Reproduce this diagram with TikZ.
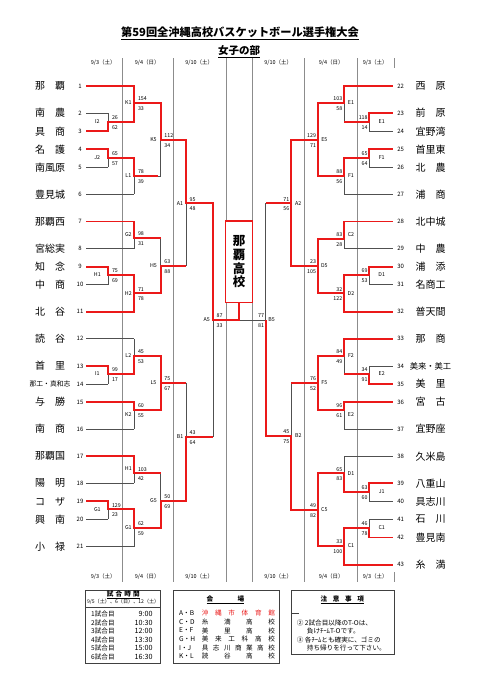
\documentclass[tikz,border=0pt]{standalone}
\usepackage{fontspec}
\setmainfont{Noto Sans CJK JP}
\usepackage{tikz}
\definecolor{bracketred}{RGB}{235,25,25}
\definecolor{bracketgray}{RGB}{80,80,80}
\definecolor{gridgray}{RGB}{140,140,140}
\newcommand{\tnamefont}{\fontsize{10}{12}\selectfont}
\newcommand{\tnumfont}{\fontsize{6}{7}\selectfont}
\newcommand{\scorefont}{\fontsize{5.3}{6}\selectfont}
\newcommand{\dayfont}{\fontsize{5.5}{6.5}\selectfont}
\newcommand{\tablefont}{\fontsize{6.6}{7.5}\selectfont}
\newcommand{\spreadbox}[2]{\makebox[#1][s]{#2}}

\begin{document}
\begin{tikzpicture}[x=1pt, y=-1pt,
    gl/.style={draw=bracketgray, line width=0.7pt},
    rl/.style={draw=bracketred, line width=1.9pt},
    colline/.style={draw=gridgray, line width=0.4pt},
    tname/.style={font=\tnamefont, inner sep=0pt},
    tnum/.style={font=\tnumfont, inner sep=0pt},
    sc/.style={font=\scorefont, inner sep=0pt},
    day/.style={font=\dayfont, inner sep=0pt},
    tbl/.style={draw=black!75, line width=0.8pt},
    tbltxt/.style={font=\tablefont, inner sep=0pt},
    tblhead/.style={font=\tablefont\bfseries, inner sep=0pt}]
    \fill[white] (0,0) rectangle (481,680);
    \useasboundingbox (0,0) rectangle (481,680);

    % Title
    \node[font=\fontsize{11.2}{13}\selectfont\bfseries, inner sep=0pt] (title) at (240,33.5) {\underline{第59回全沖縄高校バスケットボール選手権大会}};
    \node[font=\fontsize{10.5}{12}\selectfont\bfseries, inner sep=0pt] (subtitle) at (239,51.7) {\underline{女子の部}};

    % Day columns
    \foreach \x in {122,173,226,252,304,357}
        \draw[colline] (\x,58) -- (\x,582);
    \draw[colline] (394,58) -- (394,68) (394,572) -- (394,582);
    \foreach \x/\d [count=\i] in {103.3/{9/3（土）}, 147.2/{9/4（日）}, 199.2/{9/10（土）}, 278.2/{9/10（土）}, 331.2/{9/4（日）}, 375.3/{9/3（土）}}
    {
        \node[day] (dtop\i) at (\x,63) {\d};
        \node[day] (dbot\i) at (\x,577) {\d};
    }

    % Left teams
    \foreach \n/\name/\y/\e in {1/那　覇/86/134.3, 2/南　農/113.1/108.3, 3/具　商/131.2/108.3, 4/名　護/149.2/108.3,
        5/南風原/167.3/108.3, 6/豊見城/194.4/134.3, 7/那覇西/221.5/134.3, 8/宮総実/248.5/134.3,
        9/知　念/266.6/108.3, 10/中　商/284.7/108.3, 11/北　谷/311.8/134.3, 12/読　谷/338.8/134.3,
        13/首　里/365.9/108.3, 14/{{\fontsize{6.8}{8}\selectfont 那工・真和志}}/384/108.3, 15/与　勝/402.1/134.3,
        16/南　商/429.1/134.3, 17/那覇国/456.2/134.3, 18/陽　明/483.3/134.3, 19/コ　ザ/501.4/108.3,
        20/興　南/519.4/108.3, 21/小　禄/546.5/134.3}
    {
        \draw[gl] (86,\y) -- (\e,\y);
        \node[tnum] (num\n) at (80,\y) {\n};
        \node[tname] (team\n) at (50,\y) {\name};
    }

    % Right teams
    \foreach \n/\name/\y/\e in {22/西　原/86/344, 23/前　原/113.1/369.3, 24/宜野湾/131.2/369.3, 25/首里東/149.2/369.3,
        26/北　農/167.3/369.3, 27/浦　商/194.4/344, 28/北中城/221.5/344, 29/中　農/248.5/344,
        30/浦　添/266.6/369.3, 31/名商工/284.7/369.3, 32/普天間/311.8/344, 33/那　商/338.8/344,
        34/{{\fontsize{8.3}{9}\selectfont 美来・美工}}/365.9/369.3, 35/美　里/384/369.3, 36/宮　古/402.1/344,
        37/宜野座/429.1/344, 38/久米島/456.2/344, 39/八重山/483.3/369.3, 40/具志川/501.4/369.3,
        41/石　川/519.4/369.3, 42/豊見南/537.5/369.3, 43/糸　満/564.6/344}
    {
        \draw[gl] (\e,\y) -- (392.7,\y);
        \node[tnum] (num\n) at (400.7,\y) {\n};
        \node[tname] (team\n) at (430.5,\y) {\name};
    }

    % Left matches: column, top, bottom, out, next column, label pos, label, scores
    \foreach \x/\t/\b/\o/\nx/\lx/\ly/\m/\p/\q [count=\i] in {
        108.3/113.1/131.2/122/134.3/97.3/122/I2/26/62, 108.3/149.2/167.3/158/134.3/97.3/158/J2/65/57,
        134.3/86/122/103/160.7/128.3/103/K1/154/33, 134.3/158/194.4/176/160.7/128.3/176/L1/78/39,
        160.7/103/176/140/186/153.5/140/K5/112/34, 186/140/265.7/203.3/213/180/203.3/A1/95/48,
        134.3/221.5/248.5/238/160.7/128.3/235/G2/98/31, 108.3/266.6/284.7/275/134.3/97.3/275/H1/75/69,
        134.3/275/311.8/293.3/160.7/128.3/293.3/H2/71/78, 160.7/238/293.3/265.7/186/153.5/265.7/H5/63/88,
        108.3/365.9/384/374/134.3/97.3/374/I1/99/17, 134.3/338.8/374/355.7/160.7/128.3/355.7/L2/45/53,
        134.3/402.1/429.1/410/160.7/128.3/415/K2/60/55, 160.7/355.7/410/382.7/186/153.5/382.7/L5/75/67,
        186/382.7/500.7/436.7/213/180/436.7/B1/43/64, 134.3/456.2/483.3/473.3/160.7/128.3/469/H1/103/42,
        108.3/501.4/519.4/509.3/134.3/97.3/509.3/G1/129/23, 134.3/509.3/546.5/527.7/160.7/128.3/527.7/G1/62/59,
        160.7/473.3/527.7/500.7/186/153.5/500.7/G5/50/69, 213/203.3/436.7/320/239/206.7/320/A5/87/33}
    {
        \draw[gl] (\x,\t) -- (\x,\b) (\x,\o) -- (\nx,\o);
        \node[sc] (lm\i) at (\lx,\ly) {\m};
        \node[sc, anchor=west] (lp\i) at (\x+3.5,\o-4) {\p};
        \node[sc, anchor=west] (lq\i) at (\x+3.5,\o+5.5) {\q};
    }

    % Right matches
    \foreach \x/\t/\b/\o/\nx/\lx/\ly/\m/\p/\q [count=\i] in {
        369.3/113.1/131.2/122/344/381.7/122/E1/118/14, 344/86/122/103/317.7/351/103/E1/103/58,
        369.3/149.2/167.3/158/344/381.7/158/F1/65/64, 344/158/194.4/176/317.7/351/176/F1/88/56,
        317.7/103/176/140/291/324.3/140/E5/129/71, 344/221.5/248.5/239/317.7/351/235/C2/83/28,
        369.3/266.6/284.7/275/344/381.7/275/D1/69/53, 344/275/311.8/293.3/317.7/351/293.3/D2/32/122,
        317.7/239/293.3/265.7/291/324.3/265.7/D5/23/105, 291/140/265.7/203.3/265.7/298.3/203.3/A2/71/56,
        344/338.8/374/355.7/317.7/351/355.7/F2/84/49, 369.3/365.9/384/374/344/381.7/374/E2/34/91,
        344/402.1/429.1/410/317.7/351/415/E2/96/61, 317.7/355.7/410/382.7/291/324.3/382.7/F5/76/52,
        344/456.2/491.7/473.3/317.7/351/473.3/D1/65/83, 369.3/483.3/501.4/491.7/344/381.7/491.7/J1/63/60,
        369.3/519.4/537.5/527.7/344/381.7/527.7/C1/46/78, 344/527.7/564.6/546/317.7/351/546/C1/33/100,
        317.7/473.3/546/510/291/324.3/510/C5/49/82, 291/382.7/510/436/265.7/298.3/436/B2/45/75,
        265.7/203.3/436/320/239/271.7/320/B5/77/81}
    {
        \draw[gl] (\x,\t) -- (\x,\b) (\x,\o) -- (\nx,\o);
        \node[sc] (rm\i) at (\lx,\ly) {\m};
        \node[sc, anchor=east] (rp\i) at (\x-1.5,\o-4) {\p};
        \node[sc, anchor=east] (rq\i) at (\x-1.5,\o+5.5) {\q};
    }

    % Champion
    \node[draw=bracketred, line width=1.4pt, fill=white, minimum width=26.6pt, minimum height=81.7pt,
        inner sep=0pt, align=center, font=\fontsize{12.5}{13.7}\selectfont\bfseries] (champ) at (239,261.9) {那\\覇\\高\\校};

    % Winning lines, left
    \draw[rl] (86,86) -- (134.3,86) -- (134.3,103) -- (160.7,103) -- (160.7,140) -- (186,140) -- (186,203.3) -- (213,203.3) -- (213,320) -- (239,320) -- (champ.south);
    \draw[rl] (86,131.2) -- (108.3,131.2) -- (108.3,122) -- (134.3,122) -- (134.3,103);
    \draw[rl] (86,149.2) -- (108.3,149.2) -- (108.3,158) -- (134.3,158) -- (134.3,176) -- (157.5,176);
    \draw[rl] (86,221.5) -- (134.3,221.5) -- (134.3,238) -- (160.7,238);
    \draw[rl] (86,266.6) -- (108.3,266.6) -- (108.3,275) -- (134.3,275) -- (134.3,293.3);
    \draw[rl] (86,311.8) -- (134.3,311.8) -- (134.3,293.3) -- (160.7,293.3) -- (160.7,265.7) -- (186,265.7);
    \draw[rl] (86,365.9) -- (108.3,365.9) -- (108.3,374) -- (134.3,374) -- (134.3,355.7) -- (160.7,355.7) -- (160.7,382.7) -- (186,382.7);
    \draw[rl] (86,402.1) -- (134.3,402.1) -- (134.3,410) -- (160.7,410) -- (160.7,382.7);
    \draw[rl] (86,456.2) -- (134.3,456.2) -- (134.3,473.3) -- (160.7,473.3);
    \draw[rl] (86,501.4) -- (108.3,501.4) -- (108.3,509.3) -- (134.3,509.3) -- (134.3,527.7) -- (160.7,527.7) -- (160.7,500.7) -- (186,500.7) -- (186,436.7) -- (213,436.7);

    % Winning lines, right
    \draw[rl] (392.7,86) -- (344,86) -- (344,103) -- (317.7,103) -- (317.7,140) -- (291,140) -- (291,203.3) -- (265.7,203.3);
    \draw[rl] (392.7,113.1) -- (369.3,113.1) -- (369.3,122) -- (344,122);
    \draw[rl] (392.7,149.2) -- (369.3,149.2) -- (369.3,158) -- (344,158) -- (344,176) -- (317.7,176) -- (317.7,140);
    \draw[rl] (392.7,221.5) -- (344,221.5) -- (344,239) -- (317.7,239) -- (317.7,265.7);
    \draw[rl] (392.7,266.6) -- (369.3,266.6) -- (369.3,275) -- (344,275) -- (344,293.3);
    \draw[rl] (392.7,311.8) -- (344,311.8) -- (344,293.3) -- (317.7,293.3) -- (317.7,265.7) -- (291,265.7) -- (291,203.3);
    \draw[rl] (392.7,338.8) -- (344,338.8) -- (344,355.7) -- (317.7,355.7) -- (317.7,382.7) -- (291,382.7);
    \draw[rl] (392.7,384) -- (369.3,384) -- (369.3,374) -- (344,374);
    \draw[rl] (392.7,402.1) -- (344,402.1) -- (344,410) -- (317.7,410) -- (317.7,382.7);
    \draw[rl] (392.7,483.3) -- (369.3,483.3) -- (369.3,491.7) -- (344,491.7) -- (344,473.3) -- (317.7,473.3) -- (317.7,510);
    \draw[rl] (392.7,537.5) -- (369.3,537.5) -- (369.3,527.7) -- (344,527.7) -- (344,546);
    \draw[rl] (392.7,564.6) -- (344,564.6) -- (344,546) -- (317.7,546) -- (317.7,510) -- (291,510) -- (291,436) -- (265.7,436) -- (265.7,320);

    % Match times
    \draw[tbl] (85.7,590.7) rectangle (160.7,663.3);
    \draw[tbl, line width=1.3pt] (85.7,607.7) -- (160.7,607.7);
    \node[tblhead] (timehead) at (123.3,594.8) {\underline{\spreadbox{33pt}{試\hfill 合\hfill 時\hfill 間}}};
    \node[tbltxt, font=\fontsize{5.1}{6}\selectfont] (timedays) at (123.2,602.2) {9/5（土）、6（日）、12（土）};
    \foreach \i/\t/\y in {1/9:00/614, 2/10:30/622.7, 3/12:00/631.1, 4/13:30/639.6, 5/15:00/648.2, 6/16:30/656.8}
    {
        \node[tbltxt, anchor=west] (round\i) at (91,\y) {{\i}試合目};
        \node[tbltxt, anchor=east, font=\fontsize{7.2}{8}\selectfont] (clock\i) at (152.7,\y) {\t};
    }

    % Venues
    \draw[tbl] (173.3,590.7) rectangle (279,663.3);
    \node[tblhead] (venuehead) at (225.5,600) {\underline{\spreadbox{37.6pt}{会\hfill 場}}};
    \foreach \c/\v/\y/\col [count=\i] in {A・B/{沖\hfill 縄\hfill 市\hfill 体\hfill 育\hfill 館}/613.3/bracketred,
        C・D/{糸\hfill 満\hfill 高\hfill 校}/621.9/black, E・F/{美\hfill 里\hfill 高\hfill 校}/630.5/black,
        G・H/{美\hfill 来\hfill 工\hfill 科\hfill 高\hfill 校}/639.2/black,
        I・J/{具\hfill 志\hfill 川\hfill 商\hfill 業\hfill 高\hfill 校}/647.8/black,
        K・L/{読\hfill 谷\hfill 高\hfill 校}/656.4/black}
    {
        \node[tbltxt, anchor=west] (court\i) at (179,\y) {\c};
        \node[tbltxt, anchor=west, text=\col] (venue\i) at (201.7,\y) {\spreadbox{73pt}{\v}};
    }

    % Notes
    \draw[tbl] (291,590.7) rectangle (394,654.3);
    \node[tblhead] (notehead) at (342.3,600) {\underline{\spreadbox{43.3pt}{注\hfill 意\hfill 事\hfill 項}}};
    \draw[black!75, line width=0.5pt] (291,613.3) -- (298.5,613.3);
    \node[tbltxt, anchor=west] (note1) at (296.7,622.7) {② 2試合目以降のT-Oは、};
    \node[tbltxt, anchor=west] (note2) at (306.7,631.1) {負けﾁｰﾑT-Oです。};
    \node[tbltxt, anchor=west] (note3) at (296.7,639.6) {③ 各ﾁｰﾑとも確実に、ゴミの};
    \node[tbltxt, anchor=west] (note4) at (306.7,648.2) {持ち帰りを行って下さい。};
\end{tikzpicture}
\end{document}
